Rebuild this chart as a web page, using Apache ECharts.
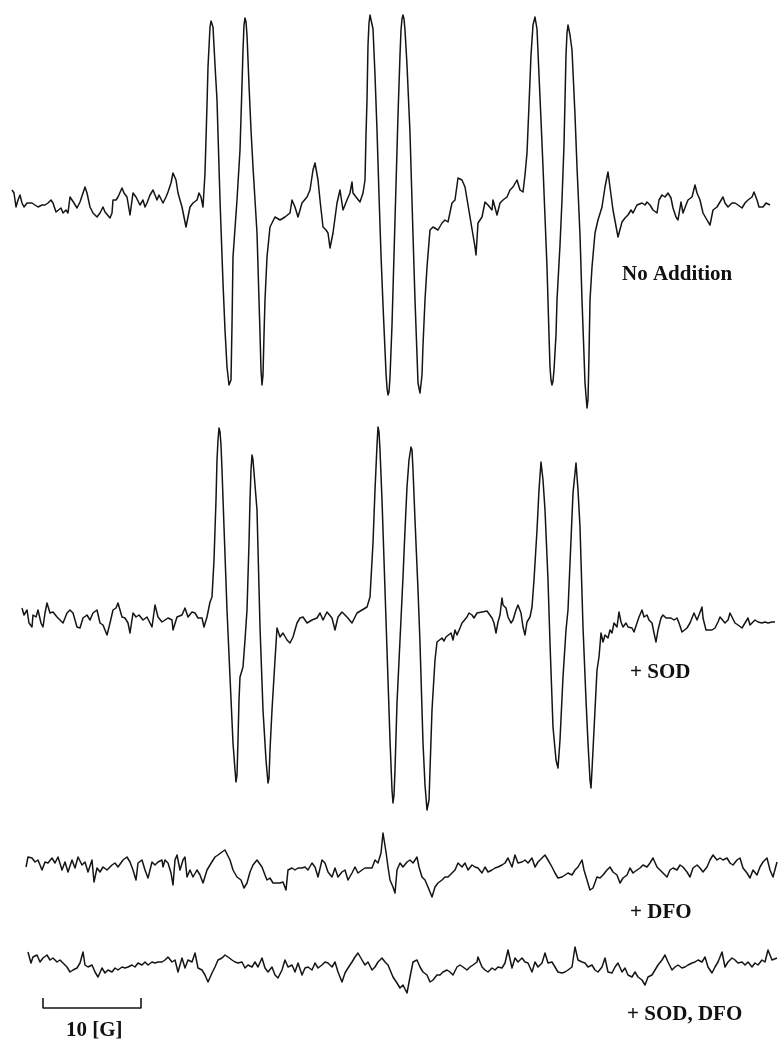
<!DOCTYPE html>
<html><head><meta charset="utf-8">
<script src="https://cdn.jsdelivr.net/npm/echarts@6/dist/echarts.min.js"></script>
<style>html,body{margin:0;padding:0;background:#fff}#c{width:779px;height:1040px}</style>
</head><body><div id="c"></div>
<script>
// Field position (channel, ~9.8 channels per gauss) and signal amplitude relative to each trace's baseline (arbitrary units)
const noAddition = [[12,15],[14,12],[16,-2],[18,5],[20,10],[22,2],[24,-2],[27,2],[29,0],[32,2],[35,0],[38,-2],[42,0],[45,0],[48,2],[51,5],[53,2],[56,-7],[58,-5],[61,-3],[63,-8],[66,-5],[68,-8],[70,8],[72,10],[74,2],[77,-3],[80,3],[83,12],[85,18],[87,12],[90,-2],[93,-8],[97,-12],[100,-8],[103,-2],[105,-7],[107,-5],[110,-13],[112,-8],[113,5],[116,5],[118,8],[122,17],[124,12],[127,8],[130,-10],[133,12],[136,8],[138,10],[140,0],[143,5],[145,-2],[147,2],[150,10],[153,15],[155,17],[157,5],[159,10],[163,2],[166,8],[168,13],[171,22],[173,32],[176,25],[178,12],[182,-2],[184,-12],[186,-22],[188,-12],[190,-2],[193,2],[197,5],[199,12],[201,8],
[203,-2],[205,32],[207,100],[208,138],[210,178],[211,184],[212,185],[213,178],[215,140],[217,105],[220,5],[223,-78],[225,-125],[227,-162],[229,-180],[230,-182],[231,-175],[232,-120],[233,-52],[237,5],[240,55],[242,120],[243,155],[244,180],[245,187],[246,183],[247,170],[249,120],[251,75],[253,38],[255,5],[257,-28],[259,-95],[260,-128],[261,-165],[262,-180],[263,-170],[264,-130],[265,-95],[267,-52],[270,-22],
[272,-22],[275,-12],[280,-15],[285,-12],[290,-8],[292,5],[295,-2],[298,-12],[302,2],[307,8],[310,15],[313,35],[315,42],[318,25],[320,5],[323,-22],[326,-25],[328,-28],[330,-43],[333,-28],[337,2],[340,15],[343,-5],[347,5],[350,12],[352,23],[353,12],[356,8],[360,3],[363,12],[365,25],
[366,70],[367,105],[368,160],[369,182],[370,190],[371,192],[372,188],[373,176],[375,130],[377,75],[379,10],[381,-50],[383,-100],[385,-145],[386,-168],[387,-183],[388,-190],[389,-187],[390,-172],[392,-120],[394,-50],[396,20],[398,90],[400,150],[401,175],[402,186],[403,190],[404,186],[405,175],[407,140],[410,72],[413,-30],[415,-95],[417,-150],[418,-178],[420,-188],[421,-186],[422,-170],[423,-140],[425,-95],[427,-62],[430,-25],
[433,-22],[438,-25],[442,-18],[445,-15],[448,-17],[452,2],[455,5],[458,27],[462,25],[465,18],[470,-12],[473,-30],[475,-42],[476,-50],[478,-18],[482,-12],[485,3],[488,0],[492,-5],[493,5],[497,-10],[500,2],[503,5],[507,8],[510,15],[513,18],[517,25],[520,15],[523,13],
[525,30],[527,52],[529,100],[531,150],[533,180],[535,188],[536,186],[537,176],[539,130],[541,85],[543,38],[545,-12],[547,-62],[549,-130],[550,-162],[551,-175],[552,-180],[553,-176],[554,-165],[556,-130],[557,-95],[560,-40],[562,5],[564,60],[565,105],[566,150],[567,172],[568,180],[570,170],[572,155],[575,90],[577,38],[580,-30],[582,-95],[584,-150],[585,-178],[587,-203],[588,-195],[589,-150],[590,-95],[592,-62],[595,-28],[598,-15],
[602,-2],[605,18],[608,33],[613,-5],[618,-32],[622,-17],[625,-13],[628,-10],[631,-5],[633,-8],[637,0],[639,-2],[642,2],[645,0],[647,3],[650,0],[653,-5],[655,-3],[657,-8],[659,5],[662,10],[665,8],[668,12],[671,7],[673,-3],[676,-12],[678,-15],[681,3],[683,-8],[686,0],[688,5],[692,8],[695,20],[697,12],[700,5],[703,-8],[707,-15],[710,-20],[713,-5],[717,-2],[720,3],[723,8],[725,2],[728,-2],[732,2],[735,2],[738,0],[742,-3],[745,2],[748,5],[752,8],[754,13],[757,5],[759,-2],[763,-2],[766,2],[770,0]];

const plusSOD = [[22,12],[24,5],[27,10],[29,-3],[32,-7],[33,5],[36,3],[38,10],[41,-3],[43,-7],[45,7],[47,17],[50,7],[53,8],[57,3],[60,0],[63,-3],[67,7],[70,10],[73,7],[77,-7],[80,-8],[83,2],[87,5],[90,0],[93,7],[97,10],[100,-3],[103,-5],[107,-15],[110,-3],[113,10],[116,12],[118,17],[122,3],[125,2],[128,-3],[130,-13],[133,7],[136,3],[139,5],[143,0],[147,3],[152,-7],[155,15],[158,3],[162,-2],[165,0],[168,2],[172,0],[173,-10],[177,3],[182,5],[185,12],[188,3],[192,8],[195,7],[198,2],[202,2],[204,-7],[207,3],[210,18],[212,23],
[214,60],[216,120],[217,160],[218,180],[219,192],[220,188],[221,175],[222,150],[224,93],[227,10],[230,-57],[233,-123],[235,-150],[236,-162],[237,-155],[238,-120],[239,-80],[240,-57],[243,-47],[245,-20],[247,10],[249,77],[250,120],[251,150],[252,165],[253,160],[255,135],[257,110],[260,-7],[263,-90],[266,-140],[268,-163],[269,-158],[270,-130],[272,-90],[275,-40],[277,-8],
[280,-17],[283,-13],[287,-20],[290,-23],[293,-17],[297,-3],[300,2],[303,3],[307,-3],[312,0],[317,2],[320,7],[323,0],[327,8],[332,2],[335,-10],[338,3],[342,8],[347,3],[352,-3],[357,7],[362,10],[367,13],[370,23],
[373,77],[375,130],[377,175],[378,193],[379,188],[380,170],[382,120],[384,60],[386,0],[388,-60],[390,-120],[392,-170],[393,-183],[394,-175],[395,-150],[397,-83],[400,-20],[403,43],[405,90],[407,133],[409,160],[411,173],[412,170],[413,150],[415,100],[418,30],[420,-23],[423,-123],[425,-165],[427,-190],[428,-192],[429,-180],[430,-150],[432,-90],[435,-40],
[437,-22],[439,-23],[442,-18],[444,-21],[446,-17],[448,-19],[451,-13],[453,-20],[455,-10],[457,-15],[460,-8],[462,-3],[464,-2],[467,3],[469,7],[472,5],[474,2],[477,7],[479,5],[482,8],[484,7],[487,9],[489,7],[492,2],[494,-3],[496,-13],[498,-2],[500,5],[502,22],[503,15],[506,12],[508,3],[511,-3],[513,0],[516,10],[518,15],[521,7],[523,-7],[525,-15],[527,-2],[530,3],[532,13],[534,40],
[537,90],[539,130],[541,158],[543,140],[545,110],[548,40],[550,-23],[553,-107],[556,-140],[558,-148],[560,-120],[563,-57],[566,-10],[568,10],[571,80],[573,127],[576,157],[578,130],[580,93],[583,-7],[586,-80],[588,-123],[590,-160],[591,-168],[592,-150],[594,-110],[597,-50],
[599,-37],[601,-13],[603,-22],[605,-15],[608,-18],[610,-10],[612,-13],[614,-3],[617,-7],[619,8],[621,-2],[623,-7],[626,-3],[628,-7],[632,-8],[634,-12],[637,-3],[639,3],[642,10],[644,3],[647,5],[649,0],[652,-3],[654,-13],[656,-22],[658,-10],[661,2],[663,5],[666,2],[668,3],[671,2],[674,0],[677,2],[679,-3],[682,-12],[684,-12],[687,-8],[690,-3],[692,2],[694,7],[697,0],[699,5],[702,13],[703,2],[706,-10],[708,-12],[712,-10],[715,-8],[718,-2],[720,3],[722,5],[725,-3],[728,0],[730,7],[732,5],[735,-3],[738,-5],[742,-8],[745,-3],[748,2],[750,-5],[752,-3],[755,0],[758,-2],[762,-3],[765,-2],[768,-3],[772,-2],[775,-2]];

const plusDFO = [[26,0],[28,10],[32,9],[35,5],[38,7],[42,-3],[45,5],[48,4],[52,9],[55,4],[58,10],[62,-3],[65,5],[68,-5],[72,7],[75,-1],[78,10],[82,2],[85,5],[88,-5],[92,7],[94,-15],[97,-1],[100,-5],[103,0],[107,-3],[112,2],[115,4],[118,0],[123,7],[127,10],[130,5],[133,-3],[136,-13],[138,4],[142,7],[145,-3],[148,-11],[152,5],[155,2],[158,5],[162,7],[163,0],[165,7],[168,4],[171,-6],[173,-18],[175,7],[177,12],[180,-3],[183,7],[185,10],[187,-10],[190,-3],[193,-10],[197,-3],[200,-8],[203,-16],[207,-3],[210,2],[215,10],[218,12],[222,15],[225,17],[227,19],[230,7],[233,-3],[237,-10],[241,-13],[244,-21],[247,-16],[250,-5],[253,2],[257,7],[262,0],[265,-8],[267,-13],[270,-11],[273,-16],[277,-16],[280,-16],[283,-15],[286,-23],[288,-3],[292,-1],[295,-3],[298,-1],[302,-1],[305,0],[308,-3],[312,4],[315,0],[318,-10],[322,7],[325,4],[328,-5],[332,-10],[335,-1],[338,-10],[342,-5],[345,-3],[348,-13],[352,-6],[355,0],[358,-6],[362,-3],[365,-1],[368,-1],[372,-1],[375,7],[378,4],[381,14],[383,34],[386,15],[388,0],
[390,-13],[393,-20],[395,-26],[397,-3],[400,4],[403,0],[407,5],[410,7],[413,4],[417,10],[419,0],[422,-10],[425,-13],[428,-20],[432,-30],[435,-20],[438,-16],[442,-13],[445,-10],[448,-10],[452,-6],[455,-3],[458,4],[462,0],[465,4],[468,-3],[472,2],[475,0],[478,-1],[482,-6],[485,0],[488,-5],[492,-3],[495,-1],[498,0],[502,2],[505,4],[508,9],[512,0],[515,12],[518,4],[522,5],[525,7],[528,4],[532,9],[535,0],[538,5],[542,9],[545,12],[548,7],[552,0],[555,-6],[558,-11],[562,-10],[565,-8],[568,-6],[572,-8],[575,-3],[578,0],[582,7],[584,-3],[587,-13],[590,-23],[593,-21],[597,-10],[600,-11],[603,-8],[607,-3],[610,0],[613,-5],[617,-8],[620,-16],[623,-11],[627,-8],[630,-1],[633,-6],[637,-3],[640,-1],[643,2],[647,0],[650,4],[653,9],[657,0],[660,-3],[663,-6],[667,-10],[670,-3],[673,-1],[677,-3],[680,2],[683,0],[687,-5],[690,-10],[693,-1],[697,2],[700,-1],[703,-5],[707,0],[710,7],[713,12],[717,7],[720,9],[723,7],[727,9],[730,4],[733,2],[737,7],[740,9],[743,-1],[747,-6],[750,-11],[753,-3],[757,-8],[760,0],[763,5],[767,9],[770,-3],[773,-10],[777,5]];

const plusSODDFO = [[28,13],[31,2],[33,8],[37,10],[40,3],[43,7],[47,10],[50,5],[53,7],[57,3],[60,5],[63,2],[67,-2],[70,-7],[73,-5],[77,-3],[80,2],[83,13],[85,0],[88,-2],[92,0],[95,-7],[98,-12],[102,-3],[105,-8],[108,-5],[112,-7],[115,-3],[118,-5],[122,-2],[125,-3],[128,-2],[132,0],[135,-2],[138,2],[142,0],[145,3],[148,0],[152,3],[155,2],[158,3],[162,3],[165,5],[168,8],[172,3],[175,5],[178,-7],[182,7],[185,-3],[188,5],[192,3],[195,12],[198,-3],[202,-5],[205,-10],[208,-17],[212,-8],[215,-2],[218,5],[222,7],[225,10],[228,8],[232,5],[235,3],[238,2],[242,3],[245,-3],[248,0],[252,-2],[255,3],[258,-2],[262,7],[265,-3],[268,-7],[272,-2],[275,-10],[278,-13],[282,-5],[285,5],[288,-2],[292,0],[295,-7],[298,2],[302,-10],[305,-3],[308,-2],[312,-5],[315,2],[318,-3],[322,0],[325,3],[328,2],[332,-2],[335,3],[338,-7],[342,-17],[345,-8],[348,-3],[352,3],[355,8],[358,12],[362,5],[365,0],[368,3],[372,-5],[375,-2],[378,3],[382,7],[385,3],[388,0],
[393,-12],[397,-18],[400,-23],[403,-20],[407,-28],[410,-12],[413,3],[417,5],[420,-2],[423,-7],[427,-10],[430,-17],[433,-15],[437,-10],[440,-10],[443,-7],[447,-5],[450,-7],[453,-10],[457,-2],[460,0],[463,-2],[467,-5],[470,-2],[473,0],[477,3],[478,8],[482,-2],[485,-5],[488,-7],[492,-3],[495,-5],[498,-2],[502,-3],[505,2],[508,15],[512,-3],[515,7],[518,3],[522,7],[525,3],[528,2],[532,-7],[535,3],[538,-2],[542,2],[545,12],[548,2],[552,3],[555,-2],[558,-7],[562,-8],[565,-7],[568,-5],[572,-2],[575,18],[578,5],[582,3],[585,2],[588,-2],[592,0],[595,-5],[598,-7],[602,-2],[605,7],[608,-7],[612,-8],[615,-2],[618,2],[622,-7],[625,-3],[628,-10],[632,-12],[635,-7],[638,-12],[642,-15],[645,-20],[648,-12],[652,-10],[655,-5],[658,0],[662,5],[665,10],[668,3],[672,-5],[675,-2],[678,0],[682,-3],[685,-2],[688,0],[692,2],[695,3],[698,5],[702,3],[705,8],[708,-2],[712,-8],[715,-2],[718,3],[722,13],[725,-2],[728,3],[732,7],[735,5],[738,2],[742,3],[745,0],[748,3],[752,-2],[755,2],[758,0],[762,5],[765,3],[768,15],[772,5],[777,7]];

// Scale bar: 10 G (in field channels) drawn under the last trace
const scaleBar = [[43,-33],[43,-43],[141,-43],[141,-33]];
const traceLabels = ['No Addition', '+ SOD', '+ DFO', '+ SOD, DFO'];
const scaleLabel = '10 [G]';

const chart = echarts.init(document.getElementById('c'), null, {renderer: 'canvas'});
const grids = [
  {left: 0, width: 779, top: 0, height: 420},
  {left: 0, width: 779, top: 405, height: 410},
  {left: 0, width: 779, top: 800, height: 110},
  {left: 0, width: 779, top: 920, height: 100}
];
const yRanges = [[-215, 205], [-195, 215], [-43, 67], [-55, 45]];
const traces = [noAddition, plusSOD, plusDFO, plusSODDFO];
const lineColor = '#141414';
const font = 'bold 21px "Liberation Serif", "DejaVu Serif", serif';

const series = traces.map((d, i) => ({
  type: 'line', xAxisIndex: i, yAxisIndex: i, data: d,
  showSymbol: false, symbol: 'none', clip: false, animation: false,
  lineStyle: {color: lineColor, width: 1.5, join: 'round'}
}));
series.push({
  type: 'line', xAxisIndex: 3, yAxisIndex: 3, data: scaleBar,
  showSymbol: false, symbol: 'none', clip: false, animation: false,
  lineStyle: {color: lineColor, width: 1.6}
});

const labelPos = [[622, 275], [630, 673], [630, 913], [627, 1015]];
const graphic = traceLabels.map((t, i) => ({
  type: 'text', x: labelPos[i][0], y: labelPos[i][1],
  style: {text: t, font: font, fill: '#111', verticalAlign: 'middle', align: 'left'}
}));
graphic.push({type: 'text', x: 66, y: 1031,
  style: {text: scaleLabel, font: font, fill: '#111', verticalAlign: 'middle', align: 'left'}});

chart.setOption({
  animation: false,
  grid: grids,
  xAxis: grids.map((g, i) => ({type: 'value', gridIndex: i, min: 0, max: 779, show: false})),
  yAxis: grids.map((g, i) => ({type: 'value', gridIndex: i, min: yRanges[i][0], max: yRanges[i][1], show: false})),
  series: series,
  graphic: graphic
});
</script>
</body></html>
